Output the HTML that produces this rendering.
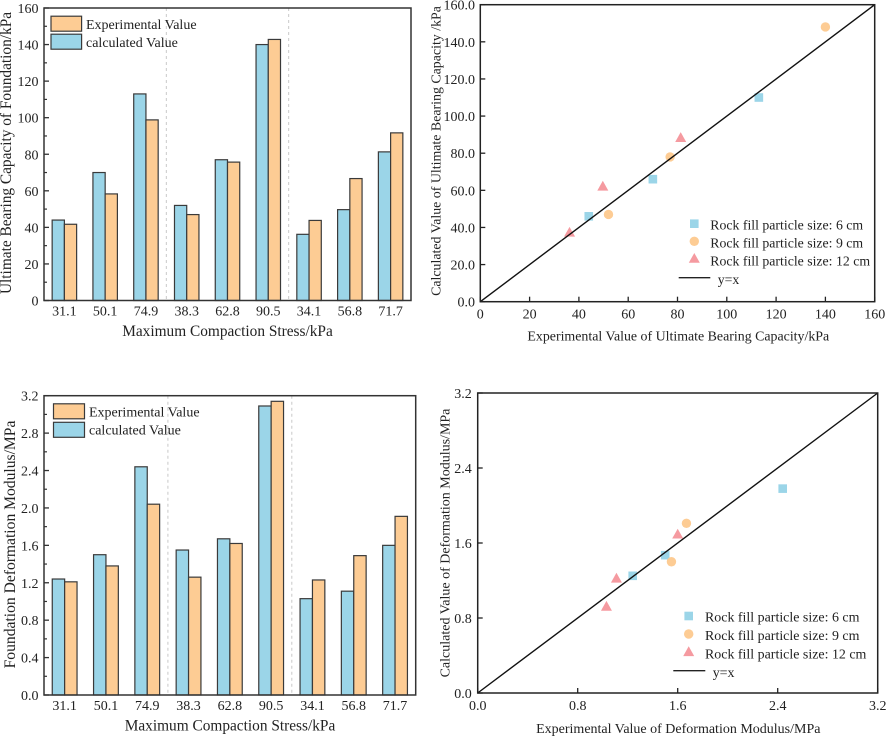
<!DOCTYPE html>
<html lang="en">
<head>
<meta charset="utf-8">
<title>Bearing capacity and deformation modulus charts</title>
<style>
html,body{margin:0;padding:0;background:#fff;}
svg{display:block;}
text{font-family:"Liberation Serif",serif;fill:#222;font-size:14px;}
.bar-title{font-size:15.35px;}
.scatter-legend-text{font-size:13.8px;}
.scatter-legend-text-d{font-size:13.95px;}
</style>
</head>
<body>
<svg id="figure" xmlns="http://www.w3.org/2000/svg" width="886" height="736" viewBox="0 0 886 736">
  <rect x="0" y="0" width="886" height="736" fill="#fff"/>

  <g id="panel-a"></g>
  <g id="panel-b"></g>
  <g id="panel-c"></g>
  <g id="panel-d"></g>

  <text class="bar-title" transform="translate(11,153) rotate(-90)" text-anchor="middle">Ultimate Bearing Capacity of Foundation/kPa</text>
  <text class="bar-title" x="227.5" y="336" text-anchor="middle">Maximum Compaction Stress/kPa</text>
  <text class="bar-title" transform="translate(15,544.5) rotate(-90)" text-anchor="middle" style="font-size:15.6px">Foundation Deformation Modulus/MPa</text>
  <text class="bar-title" x="230" y="730.5" text-anchor="middle">Maximum Compaction Stress/kPa</text>
  <text transform="translate(440.5,151) rotate(-90)" text-anchor="middle" style="font-size:13.9px">Calculated Value of Ultimate Bearing Capacity /kPa</text>
  <text x="678.3" y="340.5" text-anchor="middle" style="font-size:13.9px">Experimental Value of Ultimate Bearing Capacity/kPa</text>
  <text transform="translate(449.3,543) rotate(-90)" text-anchor="middle">Calculated Value of Deformation Modulus/MPa</text>
  <text x="678.3" y="733" text-anchor="middle">Experimental Value of Deformation Modulus/MPa</text>

  <g>
    <rect x="51" y="16.2" width="30.6" height="15" fill="#fdcc94" stroke="#3a3a3a" stroke-width="1.2"/>
    <text x="86" y="29">Experimental Value</text>
    <rect x="51" y="34.2" width="30.6" height="15" fill="#9bd5e8" stroke="#3a3a3a" stroke-width="1.2"/>
    <text x="86" y="47">calculated Value</text>
  </g>
  <g>
    <rect x="53.5" y="403.8" width="31" height="15" fill="#fdcc94" stroke="#3a3a3a" stroke-width="1.2"/>
    <text x="89" y="416.5">Experimental Value</text>
    <rect x="53.5" y="422.3" width="31" height="15" fill="#9bd5e8" stroke="#3a3a3a" stroke-width="1.2"/>
    <text x="89" y="434.5">calculated Value</text>
  </g>
  <g>
    <rect x="690" y="219.4" width="8.6" height="8.6" fill="#9bd5e8"/>
    <text class="scatter-legend-text" x="710.3" y="229.5">Rock fill particle size: 6 cm</text>
    <circle cx="694.3" cy="241.3" r="4.7" fill="#fdcc94"/>
    <text class="scatter-legend-text" x="710.3" y="247.5">Rock fill particle size: 9 cm</text>
    <polygon points="694.3,253 699.8,262.8 688.8,262.8" fill="#f59aa0"/>
    <text class="scatter-legend-text" x="710.3" y="265.5">Rock fill particle size: 12 cm</text>
    <line x1="678.7" y1="277.7" x2="710.3" y2="277.7" stroke="#222" stroke-width="1.4"/>
    <text class="scatter-legend-text" x="717.7" y="284">y=x</text>
  </g>
  <g>
    <rect x="684.4" y="611.7" width="8.6" height="8.6" fill="#9bd5e8"/>
    <text class="scatter-legend-text-d" x="705" y="621.7">Rock fill particle size: 6 cm</text>
    <circle cx="688.7" cy="634" r="4.7" fill="#fdcc94"/>
    <text class="scatter-legend-text-d" x="705" y="640">Rock fill particle size: 9 cm</text>
    <polygon points="688.7,646.3 694.2,656.1 683.2,656.1" fill="#f59aa0"/>
    <text class="scatter-legend-text-d" x="705" y="658.3">Rock fill particle size: 12 cm</text>
    <line x1="673.3" y1="670.7" x2="705.3" y2="670.7" stroke="#222" stroke-width="1.4"/>
    <text class="scatter-legend-text-d" x="712.7" y="677">y=x</text>
  </g>
</svg>

<script>
const categories = ["31.1","50.1","74.9","38.3","62.8","90.5","34.1","56.8","71.7"];
const separatorSlots = [3, 6];

const capacityCalculated = [44, 70, 113, 52, 77, 140, 36.2, 49.7, 81.3];
const capacityExperimental = [41.7, 58.3, 98.8, 47, 75.7, 142.8, 43.8, 66.7, 91.7];
const capacityTicks = [0, 20, 40, 60, 80, 100, 120, 140, 160];
const capacityMinorTicks = [10, 30, 50, 70, 90, 110, 130, 150];
const capacityTickLabels = ["0","20","40","60","80","100","120","140","160"];

const modulusCalculated = [1.24, 1.5, 2.44, 1.55, 1.67, 3.09, 1.03, 1.11, 1.6];
const modulusExperimental = [1.21, 1.38, 2.04, 1.26, 1.62, 3.14, 1.23, 1.49, 1.91];
const modulusTicks = [0, 0.4, 0.8, 1.2, 1.6, 2.0, 2.4, 2.8, 3.2];
const modulusMinorTicks = [0.2, 0.6, 1.0, 1.4, 1.8, 2.2, 2.6, 3.0];
const modulusTickLabels = ["0.0","0.4","0.8","1.2","1.6","2.0","2.4","2.8","3.2"];

const scatterCSquareX = [44, 70, 113];
const scatterCSquareY = [46, 66, 110];
const scatterCCircleX = [52, 77, 140];
const scatterCCircleY = [47, 78, 148];
const scatterCTriangleX = [36.2, 49.7, 81.3];
const scatterCTriangleY = [37.7, 62.5, 88.7];
const scatterCLine = [0, 160];
const scatterCXTicks = [0, 20, 40, 60, 80, 100, 120, 140, 160];
const scatterCXLabels = ["0","20","40","60","80","100","120","140","160"];
const scatterCYTicks = [0, 20, 40, 60, 80, 100, 120, 140, 160];
const scatterCYLabels = ["0.0","20.0","40.0","60.0","80.0","100.0","120.0","140.0","160.0"];

const scatterDSquareX = [1.24, 1.5, 2.44];
const scatterDSquareY = [1.25, 1.47, 2.18];
const scatterDCircleX = [1.55, 1.67];
const scatterDCircleY = [1.4, 1.81];
const scatterDTriangleX = [1.03, 1.11, 1.6];
const scatterDTriangleY = [0.93, 1.23, 1.7];
const scatterDLine = [0, 3.2];
const scatterDXTicks = [0, 0.8, 1.6, 2.4, 3.2];
const scatterDXLabels = ["0.0","0.8","1.6","2.4","3.2"];
const scatterDYTicks = [0, 0.8, 1.6, 2.4, 3.2];
const scatterDYLabels = ["0.0","0.8","1.6","2.4","3.2"];

const NS = "http://www.w3.org/2000/svg";

function make(parent, tag, props, content) {
  const el = document.createElementNS(NS, tag);
  for (const k in props) el.setAttribute(k, props[k]);
  if (content !== undefined) el.textContent = content;
  parent.appendChild(el);
  return el;
}

function linearScale(d0, d1, r0, r1) {
  return function (v) { return r0 + (v - d0) / (d1 - d0) * (r1 - r0); };
}

function drawFrame(g, box, color) {
  const frame = make(g, "rect", {x: box.left, y: box.top, width: box.right - box.left, height: box.bottom - box.top, fill: "none", stroke: color, "stroke-width": 1.5});
  
  
}

function drawYTicks(g, box, y, ticks, labels, minor, color, labelEnd) {
  ticks.forEach(function (t, i) {
    const tick = make(g, "line", {x1: box.left, x2: box.left + 5, y1: y(t), y2: y(t), stroke: color, "stroke-width": 1.3});
    
    
    const label = make(g, "text", {x: labelEnd, y: y(t) + 5, "text-anchor": "end"}, labels[i]);
    
    
  });
  minor.forEach(function (t) {
    const tick = make(g, "line", {x1: box.left, x2: box.left + 3, y1: y(t), y2: y(t), stroke: color, "stroke-width": 1.2});
    
    
  });
}

function drawBarPanel(id, box, yMax, calculated, experimental, ticks, minor, labels, labelY) {
  const g = document.getElementById(id);
  const y = linearScale(0, yMax, box.bottom, box.top);
  const band = (box.right - box.left) / categories.length;
  const x = function (i) { return box.left + band * (i + 0.5); };
  const barWidth = band * 0.3;

  separatorSlots.forEach(function (slot) {
    const sx = box.left + band * slot;
    const sep = make(g, "line", {x1: sx, x2: sx, y1: box.top, y2: box.bottom, stroke: "#c9c9c9", "stroke-width": 1, "stroke-dasharray": "3 3"});
    
    
  });

  categories.forEach(function (cat, i) {
    const calcBar = make(g, "rect", {x: x(i) - barWidth, y: y(calculated[i]), width: barWidth, height: y(0) - y(calculated[i]), fill: "#9bd5e8", stroke: "#3a3a3a", "stroke-width": 1.2});
    
    
    const expBar = make(g, "rect", {x: x(i), y: y(experimental[i]), width: barWidth, height: y(0) - y(experimental[i]), fill: "#fdcc94", stroke: "#3a3a3a", "stroke-width": 1.2});
    
    
    const label = make(g, "text", {x: x(i), y: labelY, "text-anchor": "middle"}, cat);
    
    
  });

  drawFrame(g, box, "#333");
  drawYTicks(g, box, y, ticks, labels, minor, "#333", 38.5);
}

function drawScatterPanel(id, box, max, series, lineData, xTicks, xLabels, yTicks, yLabels, labelY, labelEnd) {
  const g = document.getElementById(id);
  const x = linearScale(0, max, box.left, box.right);
  const y = linearScale(0, max, box.bottom, box.top);

  series.squareX.forEach(function (v, i) {
    const m = make(g, "rect", {x: x(v) - 4.3, y: y(series.squareY[i]) - 4.3, width: 8.6, height: 8.6, fill: "#9bd5e8"});
    
    
  });
  series.circleX.forEach(function (v, i) {
    const m = make(g, "circle", {cx: x(v), cy: y(series.circleY[i]), r: 4.7, fill: "#fdcc94"});
    
    
  });
  series.triangleX.forEach(function (v, i) {
    const px = x(v);
    const py = y(series.triangleY[i]);
    const m = make(g, "polygon", {points: px + "," + (py - 4.9) + " " + (px + 5.5) + "," + (py + 4.9) + " " + (px - 5.5) + "," + (py + 4.9), fill: "#f59aa0"});
    
    
  });

  const refLine = make(g, "line", {x1: x(lineData[0]), y1: y(lineData[0]), x2: x(lineData[1]), y2: y(lineData[1]), stroke: "#111", "stroke-width": 1.4});
  
  

  drawFrame(g, box, "#222");
  drawYTicks(g, box, y, yTicks, yLabels, [], "#222", labelEnd);

  xTicks.forEach(function (t, i) {
    const tick = make(g, "line", {x1: x(t), x2: x(t), y1: box.bottom, y2: box.bottom - 5, stroke: "#222", "stroke-width": 1.3});
    
    
    const label = make(g, "text", {x: x(t), y: labelY, "text-anchor": "middle"}, xLabels[i]);
    
    
  });
}

drawBarPanel("panel-a", {left: 44, right: 411, top: 8, bottom: 300.5}, 160,
  capacityCalculated, capacityExperimental, capacityTicks, capacityMinorTicks, capacityTickLabels, 315.7);

drawBarPanel("panel-b", {left: 44, right: 415.7, top: 395.7, bottom: 695}, 3.2,
  modulusCalculated, modulusExperimental, modulusTicks, modulusMinorTicks, modulusTickLabels, 710);

drawScatterPanel("panel-c", {left: 480.3, right: 874.7, top: 4.7, bottom: 301.7}, 160,
  {squareX: scatterCSquareX, squareY: scatterCSquareY, circleX: scatterCCircleX, circleY: scatterCCircleY, triangleX: scatterCTriangleX, triangleY: scatterCTriangleY},
  scatterCLine, scatterCXTicks, scatterCXLabels, scatterCYTicks, scatterCYLabels, 318.3, 475);

drawScatterPanel("panel-d", {left: 477.7, right: 877.7, top: 393, bottom: 693}, 3.2,
  {squareX: scatterDSquareX, squareY: scatterDSquareY, circleX: scatterDCircleX, circleY: scatterDCircleY, triangleX: scatterDTriangleX, triangleY: scatterDTriangleY},
  scatterDLine, scatterDXTicks, scatterDXLabels, scatterDYTicks, scatterDYLabels, 710, 471.7);
</script>
</body>
</html>
